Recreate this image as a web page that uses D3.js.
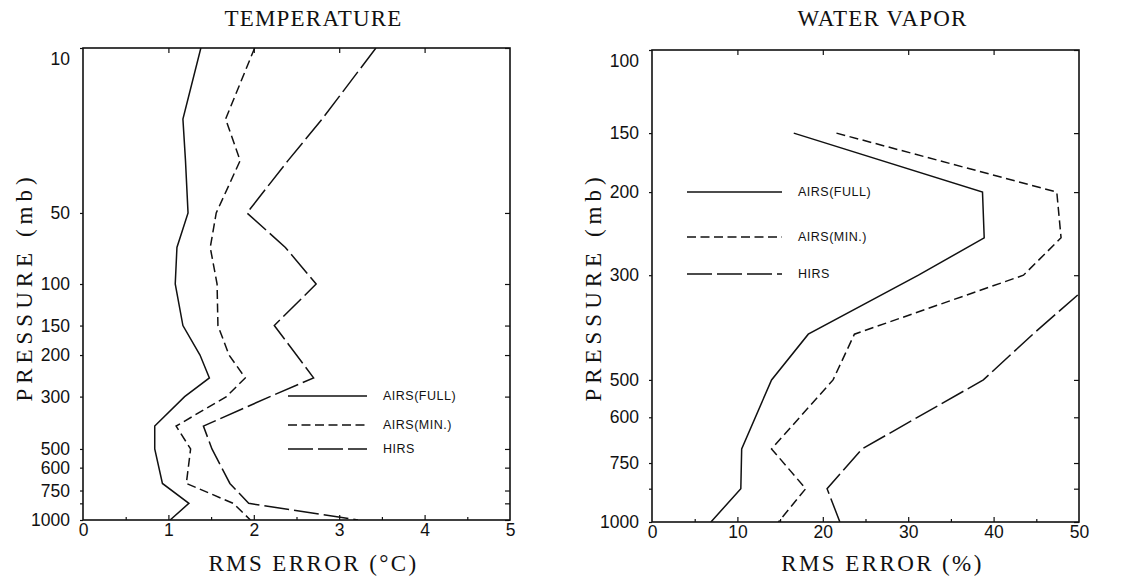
<!DOCTYPE html>
<html>
<head>
<meta charset="utf-8">
<script src="https://cdn.jsdelivr.net/npm/d3@7"></script>
<style>
  body { margin: 0; background: #fff; }
  svg { display: block; }
  .tick text { font-family: "Liberation Sans", Arial, sans-serif; font-size: 17.5px; fill: #111; }
  .domain { display: none; }
  .tick line { stroke: #111; stroke-width: 1.2; }
  .title { font-family: "Liberation Serif", serif; font-size: 23px; letter-spacing: 1.2px; fill: #111; }
  .xtitle { font-family: "Liberation Serif", serif; font-size: 23px; letter-spacing: 2.4px; fill: #111; }
  .ytitle { font-family: "Liberation Serif", serif; font-size: 23px; letter-spacing: 5px; fill: #111; }
  .legend-text { font-family: "Liberation Sans", Arial, sans-serif; font-size: 12.5px; letter-spacing: 0.5px; fill: #111; }
</style>
</head>
<body>
<svg width="1146" height="588"></svg>
<script>

// temperature panel data (pressure in mb, rms error in deg C)
const tempLevels   = [10, 20, 30, 50, 70, 100, 150, 200, 250, 300, 400, 500, 700, 850, 1000];
const tempAirsFull = [1.38, 1.17, 1.20, 1.23, 1.10, 1.08, 1.17, 1.37, 1.48, 1.19, 0.84, 0.84, 0.93, 1.24, 1.02];
const tempAirsMin  = [2.01, 1.67, 1.84, 1.56, 1.49, 1.57, 1.58, 1.71, 1.90, 1.68, 1.09, 1.26, 1.21, 1.76, 1.96];
const tempHirs     = [3.43, 2.80, 2.40, 1.92, 2.37, 2.73, 2.24, 2.50, 2.70, 2.19, 1.41, 1.51, 1.72, 1.94, 3.22];
const tempYTicks   = [10, 50, 100, 150, 200, 300, 500, 600, 750, 850, 1000];
const tempXTicks   = [0, 1, 2, 3, 4, 5];

// water vapor panel data (pressure in mb, rms error in %)
const wvLevels   = [150, 200, 250, 300, 400, 500, 700, 850, 1000];
const wvAirsFull = [16.6, 38.7, 38.9, 31.2, 18.3, 14.0, 10.5, 10.4, 6.9];
const wvAirsMin  = [21.6, 47.4, 47.9, 43.5, 23.7, 21.2, 14.0, 18.0, 14.8];
const wvHirs     = [null, null, null, 52.5, 44.6, 38.8, 24.6, 20.5, 22.0];
const wvYTicks   = [100, 150, 200, 300, 500, 600, 750, 850, 1000];
const wvXTicks   = [0, 10, 20, 30, 40, 50];

const seriesNames = ["AIRS(FULL)", "AIRS(MIN.)", "HIRS"];
const dashes = [null, "9,4.5", "25,5"];

const svg = d3.select("svg");

function drawPanel(p) {

  const x = d3.scaleLinear().domain(p.xDomain).range([p.left, p.right]);
  const y = d3.scaleLog().domain(p.yDomain).range([p.top, p.bottom]);

  const g = svg.append("g");

  // clip so lines that run past the frame are cut off
  g.append("clipPath").attr("id", p.id + "-clip")
    .append("rect")
      .attr("x", p.left).attr("y", p.top)
      .attr("width", p.right - p.left).attr("height", p.bottom - p.top);

  // left axis with labels (short outward ticks)
  const yAxis = g.append("g")
    .attr("transform", `translate(${p.left},0)`)
    .call(d3.axisLeft(y).tickValues(p.yTicks).tickSize(3).tickPadding(10)
      .tickFormat(d => p.yLabels.includes(d) ? d : ""));
  // top label sits a bit lower than its tick in the original
  yAxis.selectAll(".tick text").filter(d => d == p.yDomain[0]).attr("dy", "0.95em");

  // right border ticks, pointing inward
  g.append("g")
    .attr("transform", `translate(${p.right},0)`)
    .call(d3.axisLeft(y).tickValues(p.yTicks).tickSize(5).tickFormat(""));

  // bottom labels
  g.append("g")
    .attr("transform", `translate(0,${p.bottom})`)
    .call(d3.axisBottom(x).tickValues(p.xTicks).tickSize(0).tickPadding(4).tickFormat(d3.format("d")));

  // bottom ticks inward: major + minor
  const step = p.xTicks[1] - p.xTicks[0];
  const minor = p.xTicks.slice(0, -1).map(d => d + step / 2);
  g.append("g")
    .attr("transform", `translate(0,${p.bottom})`)
    .call(d3.axisTop(x).tickValues(p.xTicks.slice(1, -1)).tickSize(5).tickFormat(""));
  g.append("g")
    .attr("transform", `translate(0,${p.bottom})`)
    .call(d3.axisTop(x).tickValues(minor).tickSize(3).tickFormat(""));

  // top ticks inward
  g.append("g")
    .attr("transform", `translate(0,${p.top})`)
    .call(d3.axisBottom(x).tickValues(p.xTicks.slice(1, -1)).tickSize(5).tickFormat(""));

  // frame
  g.append("rect")
    .attr("x", p.left).attr("y", p.top)
    .attr("width", p.right - p.left).attr("height", p.bottom - p.top)
    .style("fill", "none").style("stroke", "#111").style("stroke-width", 1.6);

  // profiles
  const line = d3.line()
    .defined(d => d.v != null)
    .x(d => x(d.v))
    .y(d => y(d.p));

  p.series.forEach((vals, i) => {
    const pts = p.levels.map((lev, j) => ({p: lev, v: vals[j]}));
    g.append("path")
      .datum(pts)
      .attr("clip-path", `url(#${p.id}-clip)`)
      .attr("d", line)
      .style("fill", "none")
      .style("stroke", "#111")
      .style("stroke-width", 1.5)
      .style("stroke-dasharray", dashes[i]);
  });

  // legend
  seriesNames.forEach((name, i) => {
    const ly = p.legendY[i];
    g.append("line")
      .attr("x1", p.legendX).attr("x2", p.legendX + p.legendLen)
      .attr("y1", ly).attr("y2", ly)
      .style("stroke", "#111").style("stroke-width", 1.5)
      .style("stroke-dasharray", dashes[i]);
    g.append("text")
      .attr("class", "legend-text")
      .attr("x", p.legendX + p.legendLen + 16)
      .attr("y", ly)
      .attr("dy", "0.35em")
      .text(name);
  });

  // titles (the original sets them a little right of the frame centre)
  const cx = (p.left + p.right) / 2 + 17;
  g.append("text").attr("class", "title")
    .attr("x", cx).attr("y", 26)
    .attr("text-anchor", "middle")
    .text(p.title);

  g.append("text").attr("class", "xtitle")
    .attr("x", cx).attr("y", 571)
    .attr("text-anchor", "middle")
    .text(p.xTitle);

  g.append("text").attr("class", "ytitle")
    .attr("transform", `translate(${p.left - 59},${287}) rotate(-90)`)
    .attr("text-anchor", "middle")
    .attr("dy", "0.35em")
    .text("PRESSURE (mb)");
}

drawPanel({
  id: "temp",
  left: 83, right: 510, top: 48, bottom: 520,
  xDomain: [0, 5], yDomain: [10, 1000],
  xTicks: tempXTicks, yTicks: tempYTicks,
  yLabels: [10, 50, 100, 150, 200, 300, 500, 600, 750, 1000],
  levels: tempLevels,
  series: [tempAirsFull, tempAirsMin, tempHirs],
  legendX: 288, legendLen: 79, legendY: [396, 425, 449],
  title: "TEMPERATURE",
  xTitle: "RMS ERROR (\u00B0C)"
});

drawPanel({
  id: "wv",
  left: 652, right: 1079, top: 50, bottom: 522,
  xDomain: [0, 50], yDomain: [100, 1000],
  xTicks: wvXTicks, yTicks: wvYTicks,
  yLabels: [100, 150, 200, 300, 500, 600, 750, 1000],
  levels: wvLevels,
  series: [wvAirsFull, wvAirsMin, wvHirs],
  legendX: 687, legendLen: 95, legendY: [192, 237, 274],
  title: "WATER VAPOR",
  xTitle: "RMS ERROR (%)"
});

</script>
</body>
</html>
